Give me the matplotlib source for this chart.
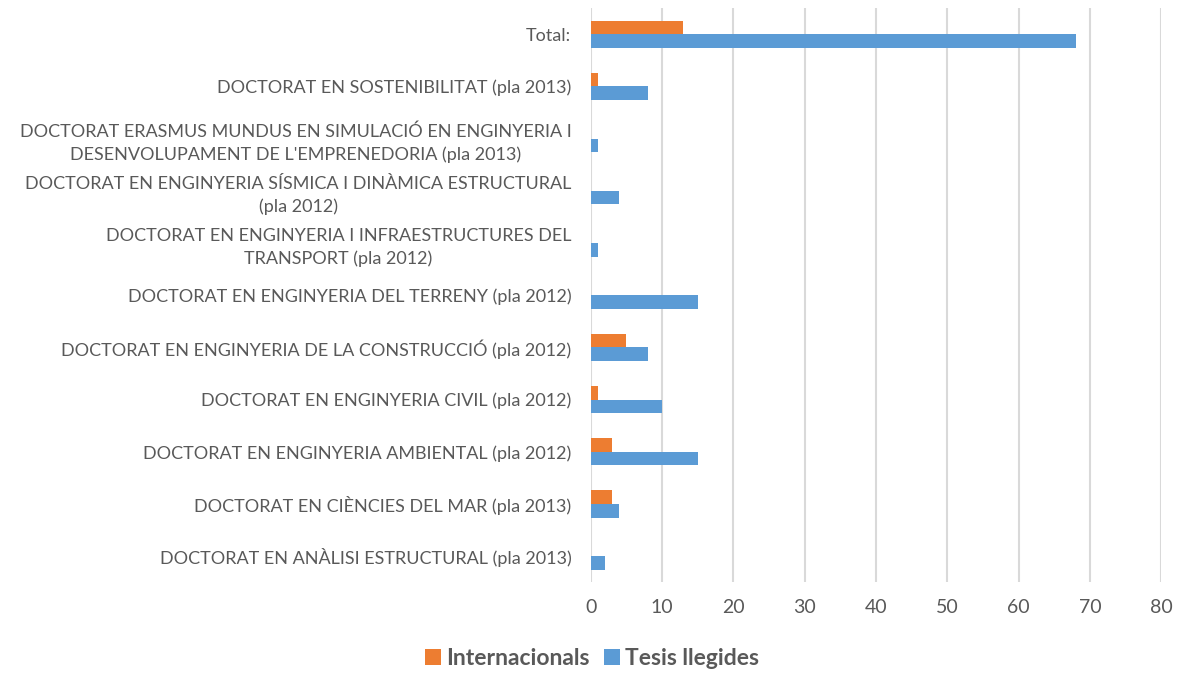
import numpy as np
import matplotlib.pyplot as plt

plt.rcParams['font.family'] = ['Lato', 'DejaVu Sans']

# programmes listed bottom to top
programes = [
    "DOCTORAT EN ANÀLISI ESTRUCTURAL (pla 2013)",
    "DOCTORAT EN CIÈNCIES DEL MAR (pla 2013)",
    "DOCTORAT EN ENGINYERIA AMBIENTAL (pla 2012)",
    "DOCTORAT EN ENGINYERIA CIVIL (pla 2012)",
    "DOCTORAT EN ENGINYERIA DE LA CONSTRUCCIÓ (pla 2012)",
    "DOCTORAT EN ENGINYERIA DEL TERRENY (pla 2012)",
    "DOCTORAT EN ENGINYERIA I INFRAESTRUCTURES DEL\nTRANSPORT (pla 2012)",
    "DOCTORAT EN ENGINYERIA SÍSMICA I DINÀMICA ESTRUCTURAL\n(pla 2012)",
    "DOCTORAT ERASMUS MUNDUS EN SIMULACIÓ EN ENGINYERIA I\nDESENVOLUPAMENT DE L'EMPRENEDORIA (pla 2013)",
    "DOCTORAT EN SOSTENIBILITAT (pla 2013)",
    "Total:",
]
internacionals = [0, 3, 3, 1, 5, 0, 0, 0, 0, 1, 13]
tesis_llegides = [2, 4, 15, 10, 8, 15, 1, 4, 1, 8, 68]

ORANGE = '#ED7D31'
BLUE = '#5B9BD5'
GREY = '#595959'

fig = plt.figure(figsize=(11.84, 6.77), dpi=100)
ax = fig.add_axes([0.499, 0.140, 0.4817, 0.848])

y = np.arange(len(programes))
h = 0.26
ax.barh(y + h / 2, internacionals, height=h, color=ORANGE, label='Internacionals', zorder=3)
ax.barh(y - h / 2, tesis_llegides, height=h, color=BLUE, label='Tesis llegides', zorder=3)

ax.set_xlim(0, 80)
ax.set_ylim(-0.5, len(programes) - 0.5)
ax.set_xticks(np.arange(0, 81, 10))
ax.set_yticks(y)
ax.set_yticklabels(programes, multialignment='center', linespacing=1.45)

ax.grid(axis='x', color='#D9D9D9', linewidth=1.5, zorder=0)
for s in ax.spines.values():
    s.set_visible(False)
ax.tick_params(axis='both', length=0)
ax.tick_params(axis='y', labelsize=13, labelcolor=GREY, pad=14)
ax.tick_params(axis='x', labelsize=14, labelcolor=GREY, pad=12)

leg = fig.legend(loc='lower center', bbox_to_anchor=(0.5, -0.018), ncol=2, frameon=False,
                 handlelength=0.7, handleheight=0.7, handletextpad=0.25, columnspacing=0.6,
                 prop={'size': 16.5, 'weight': 'bold'})
for t in leg.get_texts():
    t.set_color(GREY)

fig.savefig('out.png', dpi=100)
